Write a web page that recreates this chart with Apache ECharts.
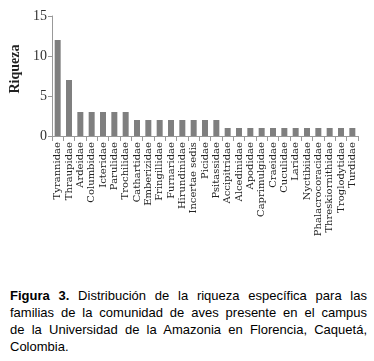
<!DOCTYPE html>
<html><head><meta charset="utf-8">
<script src="https://cdn.jsdelivr.net/npm/echarts@6/dist/echarts.min.js"></script>
<style>
html,body{margin:0;padding:0;background:#fff;}
#chart{position:absolute;left:0;top:0;width:374px;height:280px;}
#cap{position:absolute;left:10px;top:287px;width:357px;font-family:Arial,"Liberation Sans",sans-serif;font-size:13px;line-height:17px;color:#000;}
#cap div{text-align:justify;text-align-last:justify;white-space:nowrap;}
#cap div.last{text-align-last:left;}
</style></head>
<body>
<div id="chart"></div>
<div id="cap">
<div><b>Figura 3.</b> Distribución de la riqueza específica para las</div>
<div>familias de la comunidad de aves presente en el campus</div>
<div>de la Universidad de la Amazonia en Florencia, Caquetá,</div>
<div class="last">Colombia.</div>
</div>
<script>
const families = ["Tyrannidae","Thraupidae","Ardeidae","Columbidae","Icteridae","Parulidae","Trochilidae","Cathartidae","Emberizidae","Fringillidae","Furnaridae","Hirundinidae","Incertae sedis","Picidae","Psitassidae","Accipitridae","Alcedinidae","Apodidae","Caprimulgidae","Craeidae","Cuculidae","Laridae","Nyctibiidae","Phalacrocoracidae","Threskiornithidae","Troglodytidae","Turdidae"];
const riqueza = [12,7,3,3,3,3,3,2,2,2,2,2,2,2,2,1,1,1,1,1,1,1,1,1,1,1,1];
const yTicks = [0,5,10,15];

const chart = echarts.init(document.getElementById('chart'), null, {renderer:'canvas'});
chart.setOption({
  animation:false,
  grid:{left:50,right:16,top:16,height:120,containLabel:false},
  xAxis:{
    type:'category', data:families,
    axisLine:{lineStyle:{color:'#999',width:1}},
    axisTick:{show:true,length:5,lineStyle:{color:'#999'}},
    axisLabel:{rotate:90,interval:0,margin:6,fontFamily:'"DejaVu Serif",serif',fontSize:10,color:'#222'}
  },
  yAxis:{
    type:'value', min:yTicks[0], max:yTicks[yTicks.length-1], interval:5,
    name:'Riqueza', nameLocation:'middle', nameGap:30,
    nameTextStyle:{fontFamily:'"Liberation Serif",serif',fontWeight:'bold',fontSize:14,color:'#222',padding:[0,0,0,14]},
    axisLine:{show:true,lineStyle:{color:'#999'}},
    axisTick:{show:true,length:4,lineStyle:{color:'#999'}},
    splitLine:{show:false},
    axisLabel:{fontFamily:'"Liberation Serif",serif',fontSize:14,color:'#333',margin:5}
  },
  series:[{type:'bar',data:riqueza,barWidth:6,itemStyle:{color:'#7f7f7f'}}]
});
</script>
</body></html>
